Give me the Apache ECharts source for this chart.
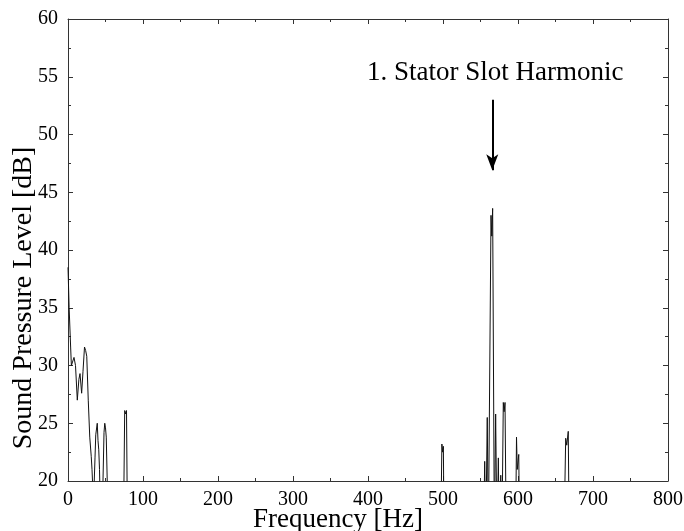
<!DOCTYPE html>
<html>
<head>
<meta charset="utf-8">
<script src="https://cdn.jsdelivr.net/npm/echarts@6/dist/echarts.min.js"></script>
<style>html,body{margin:0;padding:0;background:#fff}#c{width:684px;height:531px}</style>
</head>
<body>
<div id="c"></div>
<script>
// Frequency [Hz] and sound pressure level [dB] (values below 20 fall outside the plot)
var freq = [0, 1.5, 3.5, 4.5, 6, 8, 10, 12.4, 14.5, 16, 18.2, 20, 22, 23.5, 25, 27, 29, 31, 32, 34, 36, 37, 39, 40, 41, 42, 43, 46, 48, 49, 50, 51, 53, 55,
  73, 75.6, 76.9, 78, 80,
  496, 498.5, 499.5, 500.5, 502,
  553, 555.6, 557, 559, 560.5, 562, 564, 565, 566.2, 568.5, 570.2, 572, 573.8, 575, 577, 578.5, 580.4, 581.5, 582.7, 585,
  596, 598, 599, 601, 603,
  660, 663.6, 665, 667, 669, 800];
var spl = [38.5, 35, 31.6, 30.0, 30.3, 30.7, 30.0, 27.0, 28.8, 29.3, 27.6, 29.5, 31.6, 31.3, 30.8, 27, 23.8, 22.1, 21.0, 18, 22, 24, 25, 23.5, 22.7, 21, 18, 18, 24.2, 25, 24.6, 23.8, 18, 10,
  10, 26.1, 25.8, 26.1, 10,
  10, 23.2, 22.5, 23.0, 10,
  10, 21.7, 15, 25.5, 15, 15, 43.0, 41.2, 43.6, 15, 25.8, 15, 22.0, 15, 20.5, 15, 26.8, 26.0, 26.8, 10,
  10, 23.8, 21, 22.3, 10,
  10, 23.7, 23.1, 24.3, 10, 10];
var xTicks = [0, 100, 200, 300, 400, 500, 600, 700, 800];
var yTicks = [20, 25, 30, 35, 40, 45, 50, 55, 60];
var annotationText = '1. Stator Slot Harmonic';
var arrowFreq = 565.7, arrowFrom = 53.0, arrowTo = 46.9;

var pts = freq.map(function (f, i) { return [f, spl[i]]; });
var serif = '"Liberation Serif", "DejaVu Serif", serif';
var axisCol = '#333';

function baseAxis(extra) {
  var a = {
    axisLine: { show: true, onZero: false, lineStyle: { color: axisCol, width: 1 } },
    axisTick: { show: true, inside: true, length: 5, lineStyle: { color: axisCol } },
    minorTick: { show: true, splitNumber: 2, length: 3, lineStyle: { color: axisCol } },
    splitLine: { show: false },
    axisLabel: { show: false }
  };
  for (var k in extra) a[k] = extra[k];
  return a;
}

var chart = echarts.init(document.getElementById('c'), null, { renderer: 'canvas' });
chart.setOption({
  animation: false,
  backgroundColor: '#fff',
  grid: { left: 68, right: 16, top: 19, bottom: 50, containLabel: false, outerBoundsMode: 'none' },
  xAxis: [
    baseAxis({
      type: 'value', position: 'bottom', min: xTicks[0], max: xTicks[xTicks.length - 1], interval: 100,
      name: 'Frequency [Hz]', nameLocation: 'middle', nameGap: 25, nameMoveOverlap: false,
      nameTextStyle: { fontFamily: serif, fontSize: 27, color: '#000', padding: [0, 60, 0, 0] },
      axisLabel: { show: true, fontFamily: serif, fontSize: 20, color: '#000', margin: 9 }
    }),
    baseAxis({ type: 'value', position: 'top', min: xTicks[0], max: xTicks[xTicks.length - 1], interval: 100 })
  ],
  yAxis: [
    baseAxis({
      type: 'value', position: 'left', min: yTicks[0], max: yTicks[yTicks.length - 1], interval: 5,
      name: 'Sound Pressure Level [dB]', nameLocation: 'middle', nameGap: 30, nameRotate: 90, nameMoveOverlap: false,
      nameTextStyle: { fontFamily: serif, fontSize: 28, color: '#000', padding: [0, 96, 0, 0] },
      axisLabel: { show: true, fontFamily: serif, fontSize: 20, color: '#000', margin: 10 }
    }),
    baseAxis({ type: 'value', position: 'right', min: yTicks[0], max: yTicks[yTicks.length - 1], interval: 5 })
  ],
  series: [{
    type: 'line',
    data: pts,
    showSymbol: false,
    clip: true,
    lineStyle: { color: '#111', width: 1 },
    markLine: {
      silent: true,
      symbol: ['none', 'arrow'],
      symbolSize: [9, 16],
      label: { show: false },
      lineStyle: { color: '#000', width: 2, type: 'solid' },
      data: [[{ coord: [arrowFreq, arrowFrom] }, { coord: [arrowFreq, arrowTo] }]]
    }
  }],
  graphic: [{
    type: 'text', left: 367, top: 59,
    style: { text: annotationText, font: '27px ' + serif, fill: '#000' }
  }]
});
</script>
</body>
</html>
